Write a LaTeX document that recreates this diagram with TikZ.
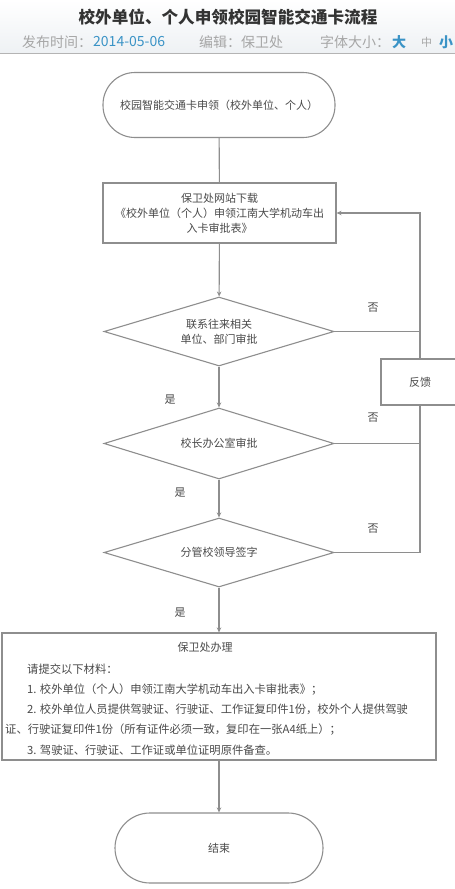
\documentclass[tikz,border=0pt]{standalone}
\usepackage{fontspec}
\setmainfont{Noto Sans CJK SC}
\usetikzlibrary{arrows.meta,shapes.geometric}
\definecolor{lin}{HTML}{8E8E8E}
\definecolor{txt}{HTML}{4A4A4A}
\definecolor{ttl}{HTML}{333333}
\definecolor{hdgray}{HTML}{A6A6A6}
\definecolor{hdblue}{HTML}{3A93C6}
\definecolor{hdbg}{HTML}{EEF1F4}
\definecolor{hdline}{HTML}{B4B4B4}
\begin{document}
\begin{tikzpicture}[x=1pt,y=-1pt,
  line/.style={draw=lin, line width=1.1pt},
  arr/.style={line, -{Stealth[length=5pt,width=4.5pt]}},
  base/.style={draw=lin, line width=1.1pt, inner sep=0pt, text=txt, align=center,
    font=\fontsize{11}{15}\selectfont},
  term/.style={base, rounded corners=32pt},
  proc/.style={base, rectangle},
  dec/.style={base, diamond, aspect=3.33, minimum width=230pt},
  lab/.style={inner sep=0pt, text=txt, font=\fontsize{11}{13}\selectfont},
  body/.style={inner sep=0pt, anchor=west, text=txt, font=\fontsize{11.3}{13}\selectfont},
  hd/.style={inner sep=0pt, anchor=west, font=\fontsize{14}{16}\selectfont}
]
\useasboundingbox (0,0) rectangle (455,889);
\clip (0,0) rectangle (455,889);
\fill[white] (0,0) rectangle (455,889);

% header
\shade[top color=white, bottom color=hdbg] (0,0) rectangle (455,53);
\draw[hdline, line width=1pt] (0,53) -- (455,53);
\node[inner sep=0pt, text=ttl, font=\fontsize{16.6}{18}\selectfont\bfseries] (title) at (228,17) {校外单位、个人申领校园智能交通卡流程};
\node[hd, text=hdgray] (h1) at (22,42) {发布时间：};
\node[hd, text=hdblue] (h2) at (93,42) {2014-05-06};
\node[hd, text=hdgray] (h3) at (199,42) {编辑：保卫处};
\node[hd, text=hdgray] (h4) at (320,42) {字体大小：};
\node[hd, text=hdblue, font=\fontsize{14}{16}\selectfont\bfseries] (h5) at (392,42) {大};
\node[hd, text=hdgray, font=\fontsize{11}{13}\selectfont] (h6) at (421,42) {中};
\node[hd, text=hdblue, font=\fontsize{14}{16}\selectfont\bfseries] (h7) at (439,42) {小};

% flow nodes
\node[term, minimum width=232pt, minimum height=65pt] (start) at (219,105) {校园智能交通卡申领（校外单位、个人）};
\node[proc, minimum width=233pt, minimum height=60pt] (dl) at (219.5,213)
  {保卫处网站下载\\《校外单位（个人）申领江南大学机动车出\\入卡审批表》};
\node[dec, minimum height=69pt] (d1) at (219,331.5) {联系往来相关\\单位、部门审批};
\node[dec, minimum height=71pt] (d2) at (219,443.5) {校长办公室审批};
\node[dec, minimum height=69pt] (d3) at (219,552.5) {分管校领导签字};
\node[proc, minimum width=78pt, minimum height=46pt] (fb) at (420,382) {反馈};
\node[proc, minimum width=434pt, minimum height=127pt] (box4) at (219,696.5) {};
\begin{scope}
\clip (0,0) rectangle (455,884);
\node[base, rounded corners=35pt, minimum width=208pt, minimum height=70pt] (end) at (219,848) {结束};
\end{scope}

% box 4 text
\node[lab] (t0) at (205,647) {保卫处办理};
\node[body] (t1) at (27,669) {请提交以下材料：};
\node[body] (t2) at (27,690) {1. 校外单位（个人）申领江南大学机动车出入卡审批表》；};
\node[body] (t3) at (27,709.5) {2. 校外单位人员提供驾驶证、行驶证、工作证复印件1份，校外个人提供驾驶};
\node[body] (t4) at (5,730) {证、行驶证复印件1份（所有证件必须一致，复印在一张A4纸上）；};
\node[body] (t5) at (27,750) {3. 驾驶证、行驶证、工作证或单位证明原件备查。};

% connectors
\draw[line] (start) -- (dl);
\draw[arr] (dl) -- (d1);
\draw[arr] (d1) -- (d2);
\draw[arr] (d2) -- (d3);
\draw[arr] (d3) -- (box4);
\draw[arr] (box4) -- (end);
\draw[line] (d1.east) -- (d1.east -| fb);
\draw[line] (d2.east) -- (d2.east -| fb);
\draw[line] (d3.east) -- (d3.east -| fb) -- (fb.south);
\draw[arr] (fb.north) |- (dl.east);

% labels
\node[lab] (n1) at (373,308) {否};
\node[lab] (n2) at (373,418) {否};
\node[lab] (n3) at (373,529) {否};
\node[lab] (y1) at (170,400) {是};
\node[lab] (y2) at (180,493) {是};
\node[lab] (y3) at (180,613) {是};
\end{tikzpicture}
\end{document}
